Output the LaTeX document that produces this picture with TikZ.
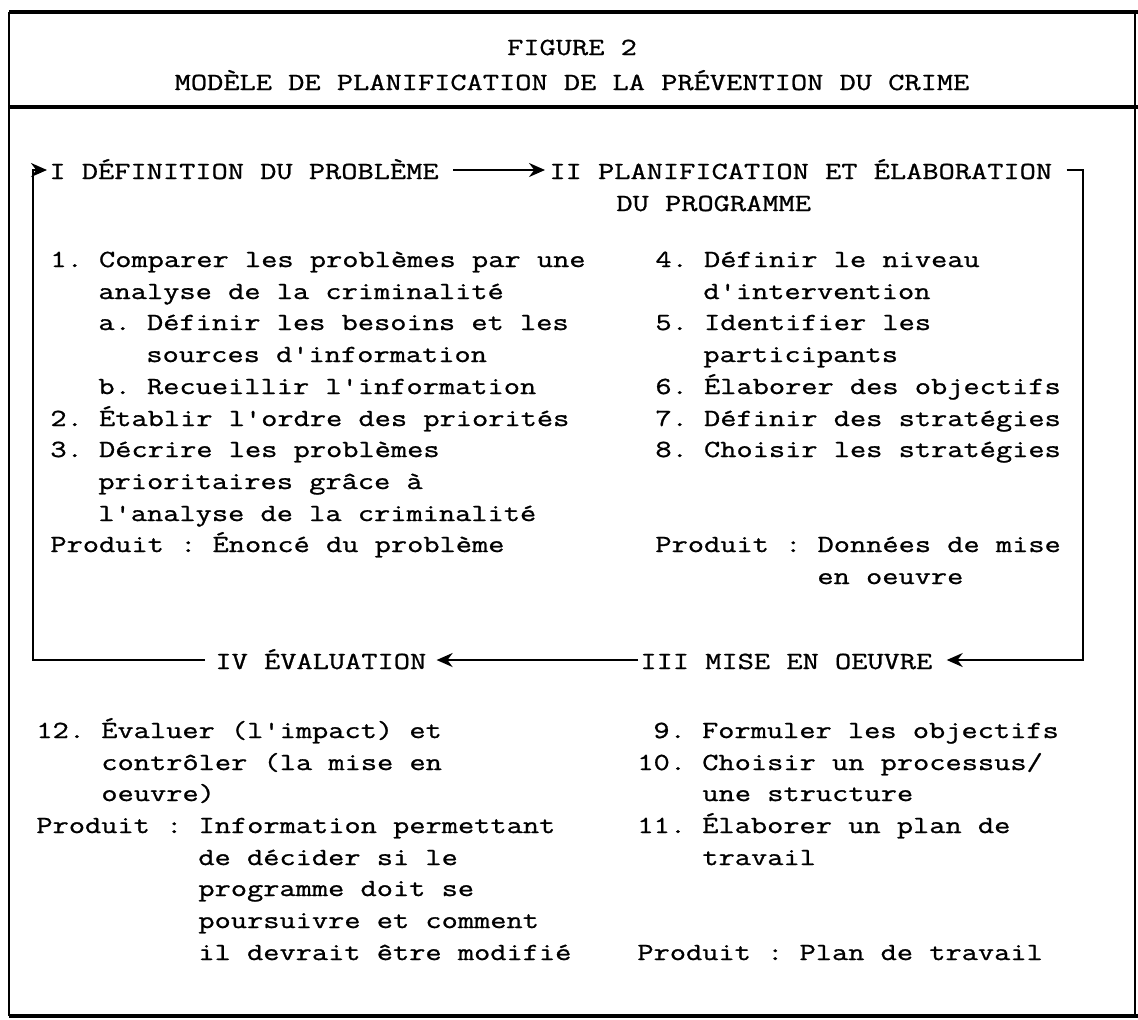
\documentclass[tikz,border=0pt]{standalone}
\usepackage{fontspec}
\setmonofont{Latin Modern Mono}[FakeStretch=1.28,FakeBold=1]
\usetikzlibrary{arrows.meta}

\tikzset{
  txt/.style={anchor=base west, inner sep=0pt, font=\fontsize{12.3}{15}\selectfont\ttfamily},
  ttl/.style={anchor=base, inner sep=0pt, font=\fontsize{12.3}{15}\selectfont\ttfamily},
  cyc/.style={line width=1pt},
  fleche/.style={-{Stealth[length=8pt,width=7pt]}},
}

\begin{document}
\begin{tikzpicture}[x=0.5pt, y=-0.5pt]
      \useasboundingbox (0,0) rectangle (1138,1019);

      % cadre
      \draw [line width=1pt] (9,12) -- (9,1016);
      \draw [line width=1pt] (1135,12) -- (1135,1016);
      \draw [line width=1.6pt] (9,12) -- (1138,12);
      \draw [line width=1.6pt] (9,107) -- (1138,107);
      \draw [line width=1.6pt] (9,1016) -- (1138,1016);

      \node [ttl] (fig) at (572,55) {FIGURE 2};
      \node [ttl] (titre) at (572,90) {MODÈLE DE PLANIFICATION DE LA PRÉVENTION DU CRIME};

      % les quatre etapes
      \node [txt] (defI) at (49,179) {I DÉFINITION DU PROBLÈME};
      \node [txt] (progII) at (549,179) {II PLANIFICATION ET ÉLABORATION};
      \node [txt] (progIIb) at (616,211) {DU PROGRAMME};
      \node [txt] (miseIII) at (640,669) {III MISE EN OEUVRE};
      \node [txt] (evalIV) at (215,669) {IV ÉVALUATION};

      \coordinate (nw) at (33,170);
      \coordinate (ne) at (1083,170);
      \coordinate (se) at (1083,660);
      \coordinate (sw) at (33,660);
      \coordinate (ie) at ([xshift=7pt]defI.east);
      \coordinate (iiw) at ([xshift=-2pt]progII.west);
      \coordinate (iie) at ([xshift=7pt]progII.east);
      \coordinate (iiie) at ([xshift=7pt]miseIII.east);
      \coordinate (iiiw) at ([xshift=-1pt]miseIII.west);
      \coordinate (ive) at ([xshift=5pt]evalIV.east);
      \coordinate (ivw) at ([xshift=-5pt]evalIV.west);

      \draw [cyc, fleche] (ie |- nw) -- (iiw |- nw);
      \draw [cyc, fleche] (iie |- ne) -- (ne) -- (se) -- (iiie |- se);
      \draw [cyc, fleche] (iiiw |- se) -- (ive |- se);
      \draw [cyc, fleche] (ivw |- sw) -- (sw) -- (nw) -- ([xshift=-1pt]nw -| defI.west);

      % I
      \node [txt] (p1) at (50,267) {1. Comparer les problèmes par une};
      \node [txt] (p1b) at (98,299) {analyse de la criminalité};
      \node [txt] (p1a) at (98,330) {a. Définir les besoins et les};
      \node [txt] (p1a2) at (146,362) {sources d'information};
      \node [txt] (p1c) at (98,394) {b. Recueillir l'information};
      \node [txt] (p2) at (50,426) {2. Établir l'ordre des priorités};
      \node [txt] (p3) at (50,457) {3. Décrire les problèmes};
      \node [txt] (p3b) at (98,489) {prioritaires grâce à};
      \node [txt] (p3c) at (98,521) {l'analyse de la criminalité};
      \node [txt] (prodI) at (50,552) {Produit : Énoncé du problème};

      % II
      \node [txt] (p4) at (655,267) {4. Définir le niveau};
      \node [txt] (p4b) at (703,299) {d'intervention};
      \node [txt] (p5) at (655,330) {5. Identifier les};
      \node [txt] (p5b) at (703,362) {participants};
      \node [txt] (p6) at (655,394) {6. Élaborer des objectifs};
      \node [txt] (p7) at (655,426) {7. Définir des stratégies};
      \node [txt] (p8) at (655,457) {8. Choisir les stratégies};
      \node [txt] (prodII) at (655,552) {Produit : Données de mise};
      \node [txt] (prodIIb) at (817,584) {en oeuvre};

      % IV
      \node [txt] (p12) at (36,738) {12. Évaluer (l'impact) et};
      \node [txt] (p12b) at (101,770) {contrôler (la mise en};
      \node [txt] (p12c) at (101,801) {oeuvre)};
      \node [txt] (prodIV) at (36,833) {Produit : Information permettant};
      \node [txt] (prodIVb) at (198,865) {de décider si le};
      \node [txt] (prodIVc) at (198,896) {programme doit se};
      \node [txt] (prodIVd) at (198,928) {poursuivre et comment};
      \node [txt] (prodIVe) at (198,960) {il devrait être modifié};

      % III
      \node [txt] (p9) at (653,738) {9. Formuler les objectifs};
      \node [txt] (p10) at (637,770) {10. Choisir un processus/};
      \node [txt] (p10b) at (702,801) {une structure};
      \node [txt] (p11) at (637,833) {11. Élaborer un plan de};
      \node [txt] (p11b) at (702,865) {travail};
      \node [txt] (prodIII) at (637,960) {Produit : Plan de travail};

\end{tikzpicture}
\end{document}
